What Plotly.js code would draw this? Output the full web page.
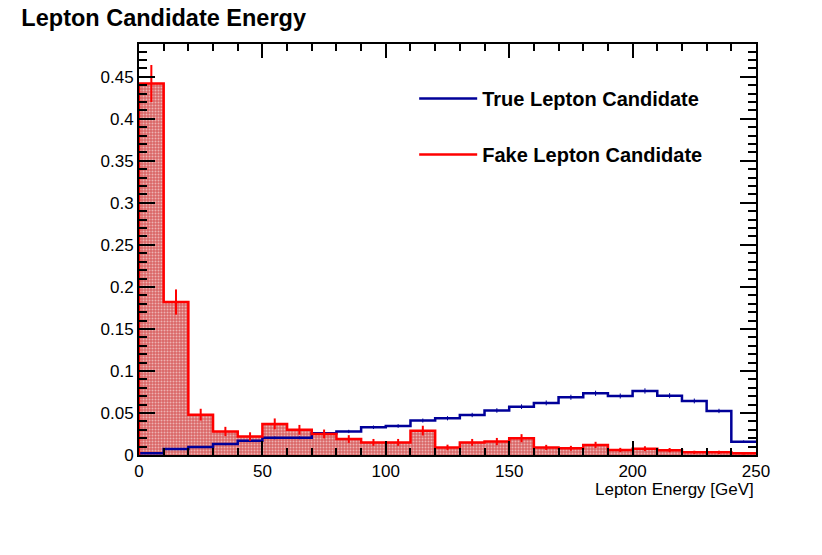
<!DOCTYPE html>
<html>
<head>
<meta charset="utf-8">
<script src="https://cdn.plot.ly/plotly-3.0.1.min.js"></script>
<style>
  body { margin: 0; background: white; }
  #plot { width: 822px; height: 555px; }
</style>
</head>
<body>
<div id="plot"></div>
<script>
// bin edges in GeV, 10 GeV wide
let edges = [0, 10, 20, 30, 40, 50, 60, 70, 80, 90, 100, 110, 120, 130, 140, 150, 160, 170, 180, 190, 200, 210, 220, 230, 240, 250];

// normalised contents
let fakeVals = [0.442, 0.182, 0.048, 0.028, 0.022, 0.037, 0.030, 0.025, 0.019, 0.015, 0.015, 0.029, 0.009,
                0.015, 0.016, 0.020, 0.009, 0.008, 0.012, 0.006, 0.0075, 0.0058, 0.0032, 0.0032, 0.002];
let fakeErr = [0.022, 0.015, 0.007, 0.0055, 0.005, 0.0065, 0.0058, 0.0053, 0.0046, 0.0041, 0.0041, 0.0058, 0.0033,
               0.0041, 0.0043, 0.0048, 0.0031, 0.0029, 0.0037, 0.0025, 0.0029, 0.0025, 0.0019, 0.0019, 0.0015];

let trueVals = [0.002, 0.007, 0.0095, 0.013, 0.017, 0.0204, 0.0204, 0.026, 0.028, 0.033, 0.0345, 0.041, 0.0437,
                0.0476, 0.053, 0.0575, 0.062, 0.0687, 0.0734, 0.0702, 0.0762, 0.0706, 0.0643, 0.0524, 0.0159];
let trueErr = [0.0006, 0.001, 0.0012, 0.0014, 0.0016, 0.0017, 0.0017, 0.0019, 0.002, 0.0021, 0.0022, 0.0024, 0.0025,
               0.0026, 0.0027, 0.0028, 0.0029, 0.003, 0.0031, 0.003, 0.0032, 0.003, 0.0029, 0.0026, 0.0015];

let xTicks = [0, 50, 100, 150, 200, 250];
let yTicks = [0, 0.05, 0.1, 0.15, 0.2, 0.25, 0.3, 0.35, 0.4, 0.45];

let centers = [];
for (let i = 0; i < edges.length - 1; i++) {
    centers.push((edges[i] + edges[i + 1]) / 2);
}

// step outline: start on the axis, go through every bin
function stepX() {
    return [edges[0]].concat(edges);
}
function stepY(vals) {
    return [0].concat(vals, [vals[vals.length - 1]]);
}

let blue = '#000099';
let red = '#ff0000';

const data = [
{
    type: 'bar',
    x: centers,
    y: fakeVals,
    width: 10,
    marker: {
        color: 'rgba(205,50,50,0.75)',
        line: {width: 0},
        pattern: {shape: '.', fillmode: 'overlay', fgcolor: 'white', size: 3, solidity: 0.35}
    },
    showlegend: false,
    hoverinfo: 'skip'
},
{
    x: stepX(),
    y: stepY(trueVals),
    mode: 'lines',
    line: {color: blue, width: 2.5, shape: 'hv'},
    name: 'True Lepton Candidate',
    legendgroup: 'true'
},
{
    x: stepX(),
    y: stepY(fakeVals),
    mode: 'lines',
    line: {color: red, width: 2.5, shape: 'hv'},
    name: 'Fake Lepton Candidate',
    legendgroup: 'fake'
},
{
    x: centers,
    y: trueVals,
    mode: 'markers',
    marker: {size: 1, color: blue},
    error_y: {type: 'data', array: trueErr, color: blue, thickness: 1, width: 0},
    showlegend: false,
    hoverinfo: 'skip'
},
{
    x: centers,
    y: fakeVals,
    mode: 'markers',
    marker: {size: 1, color: red},
    error_y: {type: 'data', array: fakeErr, color: red, thickness: 2, width: 0},
    showlegend: false,
    hoverinfo: 'skip'
}
];

const layout = {
    width: 822,
    height: 555,
    margin: {l: 139, r: 66, t: 44, b: 100},
    paper_bgcolor: 'white',
    plot_bgcolor: 'white',
    font: {family: 'Liberation Sans, Arial, sans-serif', size: 16, color: 'black'},
    title: {
        text: 'Lepton Candidate Energy',
        font: {size: 23.5, weight: 'bold'},
        xref: 'container', x: 0.026, xanchor: 'left',
        yref: 'container', y: 0.968, yanchor: 'middle'
    },
    bargap: 0,
    xaxis: {
        range: [0, 250],
        tickvals: xTicks,
        ticks: 'inside', ticklen: 14, tickwidth: 2, tickcolor: 'black',
        minor: {dtick: 10, ticks: 'inside', ticklen: 7, tickwidth: 2, tickcolor: 'black'},
        showline: true, linecolor: 'black', linewidth: 2, mirror: 'allticks',
        showgrid: false, zeroline: false,
        tickfont: {size: 17}
    },
    yaxis: {
        range: [0, 0.489],
        tickvals: yTicks,
        ticktext: yTicks.map(String),
        ticks: 'inside', ticklen: 16, tickwidth: 2, tickcolor: 'black',
        minor: {dtick: 0.01, ticks: 'inside', ticklen: 8, tickwidth: 2, tickcolor: 'black'},
        showline: true, linecolor: 'black', linewidth: 2, mirror: 'allticks',
        showgrid: false, zeroline: false,
        tickfont: {size: 17}
    },
    legend: {
        x: 0.446, y: 0.915, xanchor: 'left', yanchor: 'top',
        bgcolor: 'rgba(0,0,0,0)',
        font: {size: 20, weight: 'bold'},
        itemwidth: 58,
        traceorder: 'grouped',
        tracegroupgap: 27
    },
    annotations: [{
        text: 'Lepton Energy [GeV]',
        xref: 'paper', yref: 'paper',
        x: 1, y: -0.055, xanchor: 'right', yanchor: 'top',
        showarrow: false,
        font: {size: 17}
    }]
};

Plotly.newPlot('plot', data, layout, {displaylogo: false, displayModeBar: false});
</script>
</body>
</html>
